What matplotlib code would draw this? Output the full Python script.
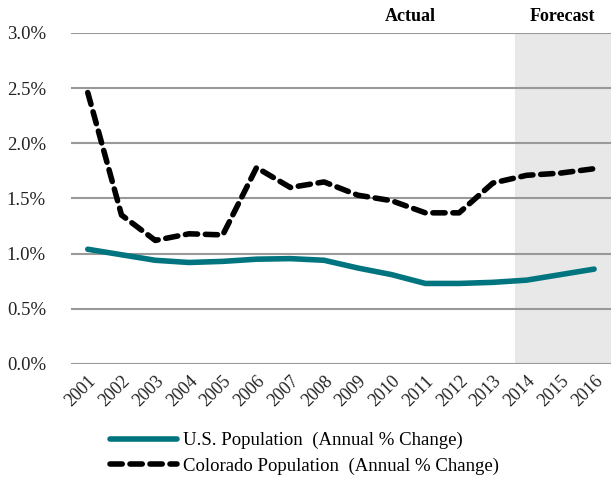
import matplotlib.pyplot as plt
from matplotlib.ticker import PercentFormatter

years = [str(y) for y in range(2001, 2017)]
us_pop = [1.04, 0.99, 0.94, 0.92, 0.93, 0.95, 0.955, 0.94, 0.87, 0.81,
          0.73, 0.73, 0.74, 0.76, 0.81, 0.86]
co_pop = [2.46, 1.35, 1.12, 1.18, 1.17, 1.78, 1.60, 1.65, 1.53, 1.48,
          1.37, 1.37, 1.64, 1.71, 1.73, 1.77]

plt.rcParams['font.family'] = ['Liberation Serif', 'DejaVu Serif']

fig = plt.figure(figsize=(6.11, 4.78), dpi=100)
ax = fig.add_axes([0.116, 0.2385, 0.884, 0.6925])

x = range(len(years))
ax.axvspan(12.65, 15.5, color='#e8e8e8', zorder=0, lw=0)
ax.plot(x, us_pop, color='#00757f', lw=4, solid_capstyle='round',
        label='U.S. Population  (Annual % Change)', zorder=3)
ax.plot(x, co_pop, color='black', lw=4, ls=(0, (2.2, 1.4)), dash_capstyle='round',
        label='Colorado Population  (Annual % Change)', zorder=3)

ax.set_xlim(-0.5, 15.5)
ax.set_ylim(0, 3.0)
ax.set_yticks([0, 0.5, 1.0, 1.5, 2.0, 2.5, 3.0])
ax.yaxis.set_major_formatter(PercentFormatter(decimals=1))
ax.set_xticks(list(x))
ax.set_xticklabels(years, rotation=45, ha='right', rotation_mode='anchor')
ax.grid(axis='y', color='#999999', lw=1.5, zorder=1)
ax.set_axisbelow(True)
for s in ax.spines.values():
    s.set_visible(False)
ax.tick_params(length=0, labelsize=13.5, colors='#222222')
ax.tick_params(axis='x', labelsize=13)
ax.tick_params(axis='y', pad=18)
ax.tick_params(axis='x', pad=6)

fig.text(0.672, 0.965, 'Actual', ha='center', va='center', fontsize=13, fontweight='bold')
fig.text(0.92, 0.965, 'Forecast', ha='center', va='center', fontsize=13, fontweight='bold')

fig.legend(loc='upper left', bbox_to_anchor=(0.18, 0.096), frameon=False,
           borderpad=0, borderaxespad=0,
           fontsize=13.5, handlelength=3.6, handletextpad=0.27, labelspacing=0.42)

fig.savefig('out.png', dpi=100)
